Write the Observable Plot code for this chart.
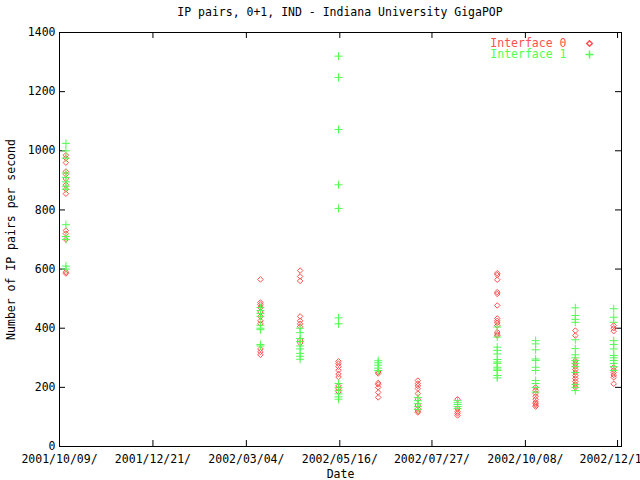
<!DOCTYPE html>
<html><head><meta charset="utf-8">
<script src="https://cdn.jsdelivr.net/npm/d3@7"></script>
<script src="https://cdn.jsdelivr.net/npm/@observablehq/plot@0.6"></script>
<style>
body{margin:0;background:#fff;}
#title{width:600px;padding-left:40px;height:24px;line-height:24px;text-align:center;font-family:"DejaVu Sans Mono";font-size:11.5px;color:#000;white-space:pre;}
</style></head><body>
<div id="title"></div>
<div id="chart"></div>
<script>
const titleText = "IP pairs, 0+1, IND - Indiana University GigaPOP";
const xLabel = "Date";
const yLabel = "Number of IP pairs per second";
const seriesNames = ["Interface 0", "Interface 1"];
const seriesColors = ["#ff5050", "#50ff50"];

const sampleDates = ["2001-10-14","2002-03-15","2002-04-15","2002-05-15","2002-06-15","2002-07-16","2002-08-16","2002-09-16","2002-10-16","2002-11-16","2002-12-16"];

const iface0 = [
  [985, 975, 960, 930, 920, 905, 885, 870, 855, 730, 720, 700, 590, 585],
  [565, 487, 480, 470, 455, 440, 425, 415, 330, 320, 310],
  [595, 575, 560, 440, 425, 415, 405, 360, 350],
  [288, 280, 270, 258, 245, 235, 205, 195, 185],
  [252, 247, 215, 210, 200, 183, 166],
  [223, 213, 205, 196, 179, 160, 140, 128, 120, 115],
  [160, 128, 118, 112, 105],
  [586, 580, 564, 522, 516, 477, 433, 425, 418, 409, 387, 380, 375],
  [200, 190, 180, 170, 160, 150, 145, 140, 135],
  [392, 375, 290, 280, 270, 260, 250, 240, 230, 220, 210, 200],
  [409, 400, 390, 268, 258, 250, 242, 234, 212]
];

const iface1 = [
  [1025, 1000, 975, 925, 910, 895, 880, 870, 750, 710, 700, 610, 600],
  [470, 460, 450, 440, 410, 400, 395, 345, 340],
  [400, 385, 365, 355, 340, 330, 315, 305, 295],
  [1320, 1248, 1072, 885, 805, 435, 415, 213, 200, 190, 178, 168, 160],
  [290, 283, 275, 265, 257],
  [166, 155, 145, 135, 125],
  [155, 148, 142, 135, 128],
  [404, 370, 336, 325, 313, 294, 286, 281, 268, 262, 257, 240, 232],
  [358, 347, 327, 296, 291, 268, 257, 223, 213, 200, 184],
  [469, 443, 430, 420, 361, 331, 310, 300, 291, 281, 270, 250, 210, 200, 189],
  [466, 437, 420, 358, 345, 330, 308, 300, 291, 281, 270, 257]
];

const xTickDates = ["2001-10-09","2001-12-21","2002-03-04","2002-05-16","2002-07-27","2002-10-08","2002-12-19"];
const xTickLabels = ["2001/10/09/","2001/12/21/","2002/03/04/","2002/05/16/","2002/07/27/","2002/10/08/","2002/12/19/"];
const xDomain = ["2001-10-09T00:00Z","2002-12-22T02:00Z"];
const yTicks = [0, 200, 400, 600, 800, 1000, 1200, 1400];
const yDomain = [0, 1400];

document.getElementById("title").textContent = titleText;

const parse = d3.utcParse("%Y-%m-%d");
const ticks = xTickDates.map(parse);
const labelMap = new Map(ticks.map((d, i) => [+d, xTickLabels[i]]));

function flatten(series) {
  const out = [];
  series.forEach((vals, i) => vals.forEach(v => out.push({date: parse(sampleDates[i]), value: v})));
  return out;
}
const data0 = flatten(iface0);
const data1 = flatten(iface1);

const chart = Plot.plot({
  width: 640,
  height: 456,
  marginTop: 8,
  marginBottom: 34,
  marginLeft: 59,
  marginRight: 19,
  style: {fontFamily: "DejaVu Sans Mono", fontSize: "11.5px", background: "white", color: "black"},
  x: {type: "utc", domain: xDomain.map(d => new Date(d))},
  y: {domain: yDomain},
  marks: [
    Plot.axisY({ticks: yTicks, tickFormat: d3.format("d"), tickSize: 0, tickPadding: 4, label: yLabel, labelAnchor: "center", labelOffset: 53, labelArrow: "none"}),
    Plot.axisX({ticks: ticks, tickFormat: d => labelMap.get(+d), tickSize: 0, tickPadding: 8, label: xLabel, labelAnchor: "center", labelOffset: 31, labelArrow: "none"}),
    Plot.tickX(ticks, {x: d => d, insetTop: 408, stroke: "black"}),
    Plot.tickX(ticks, {x: d => d, insetBottom: 408, stroke: "black"}),
    Plot.tickY(yTicks, {y: d => d, insetRight: 556, stroke: "black"}),
    Plot.tickY(yTicks, {y: d => d, insetLeft: 556, stroke: "black"}),
    Plot.frame({stroke: "black"}),
    Plot.dot(data0, {x: "date", y: "value", symbol: "diamond2", r: 2.5, stroke: seriesColors[0], fill: "none", strokeWidth: 1}),
    Plot.dot(data1, {x: "date", y: "value", symbol: "plus", r: 2.7, stroke: seriesColors[1], strokeWidth: 1}),
    Plot.text([seriesNames[0]], {text: d => d, frameAnchor: "top-right", lineAnchor: "middle", dx: -55, dy: 11, textAnchor: "end", fill: seriesColors[0]}),
    Plot.text([seriesNames[1]], {text: d => d, frameAnchor: "top-right", lineAnchor: "middle", dx: -55, dy: 22, textAnchor: "end", fill: seriesColors[1]}),
    Plot.dot([0], {frameAnchor: "top-right", dx: -32, dy: 11, symbol: "diamond2", r: 2.5, stroke: seriesColors[0], fill: "none"}),
    Plot.dot([0], {frameAnchor: "top-right", dx: -32, dy: 22, symbol: "plus", r: 2.7, stroke: seriesColors[1]})
  ]
});
document.getElementById("chart").appendChild(chart);
</script>
</body></html>
